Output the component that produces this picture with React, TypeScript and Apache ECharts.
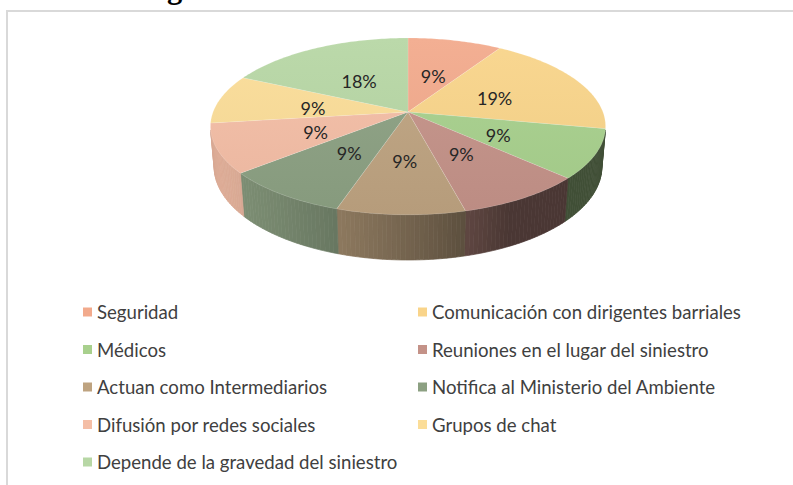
import React, { useEffect, useRef } from 'react';
import * as echarts from 'echarts';

const TITLE = 'Figura 13. Protocolos de comunicación';
const NAMES = [
  'Seguridad',
  'Comunicación con dirigentes barriales',
  'Médicos',
  'Reuniones en el lugar del siniestro',
  'Actuan como Intermediarios',
  'Notifica al Ministerio del Ambiente',
  'Difusión por redes sociales',
  'Grupos de chat',
  'Depende de la gravedad del siniestro',
];
const VALUES = [9, 19, 9, 9, 9, 9, 9, 9, 18];
const COLORS = ['#F2AA8C', '#F9D48A', '#A8D08D', '#C49288', '#BEA380', '#8CA082', '#F4BEA6', '#FBDD98', '#B7D7A5'];
const LEFT_COLUMN = [0, 2, 4, 6, 8];
const RIGHT_COLUMN = [1, 3, 5, 7];

// 3D view parameters
const CX = 408;
const CY = 112;
const FOCAL = 1072;
const DIST = 5.5;
const TILT = (26.2 * Math.PI) / 180;
const DEPTH = 0.232;
const LABEL_R = 0.5;

function project(phi: number, r: number, y: number): number[] {
  const x = r * Math.sin(phi);
  const z = -r * Math.cos(phi);
  const s = Math.sin(TILT);
  const c = Math.cos(TILT);
  const d = DIST - (z * c + y * s);
  return [CX + (FOCAL * x) / d, CY + (FOCAL * (z * s - y * c)) / d];
}

function hexRgb(hex: string): number[] {
  const n = parseInt(hex.slice(1), 16);
  return [(n >> 16) & 255, (n >> 8) & 255, n & 255];
}
function shade(hex: string, k: number): string {
  const [r, g, b] = hexRgb(hex);
  const f = (v: number) => {
    const o = k <= 1 ? v * k : v + (255 - v) * (k - 1);
    return Math.max(0, Math.min(255, Math.round(o)));
  };
  return `rgb(${f(r)},${f(g)},${f(b)})`;
}

const L_LEN = Math.hypot(-0.9, 0.44);
const LX = -0.9 / L_LEN;
const LZ = 0.44 / L_LEN;
function wallFactor(phi: number): number {
  const nx = Math.sin(phi);
  const nz = -Math.cos(phi);
  const dot = nx * LX + nz * LZ;
  return 0.38 + 0.52 * Math.max(0, dot);
}

export default function App() {
  const ref = useRef<HTMLDivElement>(null);
  useEffect(() => {
    if (!ref.current) return;
    const chart = echarts.init(ref.current, null, { renderer: 'svg' });
    const total = VALUES.reduce((a, b) => a + b, 0);
    const starts: number[] = [];
    let acc = 0;
    VALUES.forEach((v) => {
      starts.push(acc);
      acc += v;
    });
    const visLimit = Math.acos(-1 / (DIST * Math.cos(TILT)));
    const visMin = visLimit;
    const visMax = 2 * Math.PI - visLimit;

    const renderItem = (params: any, api: any) => {
      const i = params.dataIndex;
      const v = api.value(0);
      const p0 = (starts[i] / total) * 2 * Math.PI;
      const p1 = ((starts[i] + v) / total) * 2 * Math.PI;
      const base = COLORS[i];
      const children: any[] = [];
      // side walls
      const a0 = Math.max(p0, visMin);
      const a1 = Math.min(p1, visMax);
      if (a1 > a0) {
        const step = (1.2 * Math.PI) / 180;
        const n = Math.max(1, Math.ceil((a1 - a0) / step));
        for (let k = 0; k < n; k++) {
          const pa = a0 + ((a1 - a0) * k) / n;
          const pb = a0 + ((a1 - a0) * (k + 1)) / n;
          const col = shade(base, wallFactor((pa + pb) / 2));
          children.push({
            type: 'polygon',
            shape: {
              points: [project(pa, 1, 0), project(pb, 1, 0), project(pb, 1, -DEPTH), project(pa, 1, -DEPTH)],
            },
            style: { fill: col, stroke: col, lineWidth: 0.7 },
          });
        }
      }
      // top face
      const pts: number[][] = [project(0, 0, 0)];
      const nTop = Math.max(2, Math.ceil(((p1 - p0) * 180) / Math.PI));
      for (let k = 0; k <= nTop; k++) {
        pts.push(project(p0 + ((p1 - p0) * k) / nTop, 1, 0));
      }
      children.push({
        type: 'polygon',
        shape: { points: pts },
        style: {
          fill: new echarts.graphic.LinearGradient(
            0, 38, 0, 215,
            [
              { offset: 0, color: shade(base, 1.06) },
              { offset: 1, color: shade(base, 0.96) },
            ],
            true
          ),
          stroke: 'rgba(255,255,255,0.25)',
          lineWidth: 0.5,
        },
      });
      const mid = (p0 + p1) / 2;
      const lp = project(mid, LABEL_R, 0);
      children.push({
        type: 'text',
        z2: 20,
        style: {
          text: Math.round((v / total) * 100) + '%',
          x: lp[0],
          y: lp[1] + 2.5,
          align: 'center',
          verticalAlign: 'middle',
          fontSize: 18,
          fontFamily: 'Lato',
          fill: '#262626',
        },
      });
      return { type: 'group', children };
    };

    const legendCommon = {
      orient: 'vertical',
      icon: 'rect',
      itemWidth: 9,
      itemHeight: 9,
      itemGap: 17.5,
      padding: 0,
      selectedMode: false,
      textStyle: { fontFamily: 'Lato', fontSize: 18.6, color: '#404040', lineHeight: 20 },
    };

    chart.setOption({
      animation: false,
      backgroundColor: '#ffffff',
      graphic: [
        {
          type: 'rect',
          shape: { x: 7, y: 11, width: 820, height: 520 },
          style: { fill: 'none', stroke: '#D9D9D9', lineWidth: 2 },
          silent: true,
        },
        {
          type: 'text',
          style: {
            text: TITLE,
            x: 140,
            y: 3,
            align: 'left',
            verticalAlign: 'bottom',
            fontFamily: 'Liberation Serif',
            fontWeight: 'bold',
            fontSize: 30.5,
            fill: '#000000',
          },
        },
      ],
      legend: [
        { ...legendCommon, left: 83, top: 302, data: LEFT_COLUMN.map((i) => NAMES[i]) },
        { ...legendCommon, left: 418, top: 302, data: RIGHT_COLUMN.map((i) => NAMES[i]) },
      ],
      series: [
        {
          type: 'pie',
          radius: [0, 0],
          center: [-100, -100],
          silent: true,
          label: { show: false },
          labelLine: { show: false },
          data: NAMES.map((name, i) => ({ name, value: VALUES[i], itemStyle: { color: COLORS[i] } })),
        },
        {
          type: 'custom',
          coordinateSystem: 'none',
          renderItem,
          silent: true,
          data: NAMES.map((name, i) => ({ name, value: [VALUES[i]] })),
        },
      ],
    });
    return () => chart.dispose();
  }, []);
  return <div ref={ref} style={{ position: 'fixed', left: 0, top: 0, width: 793, height: 485 }} />;
}
